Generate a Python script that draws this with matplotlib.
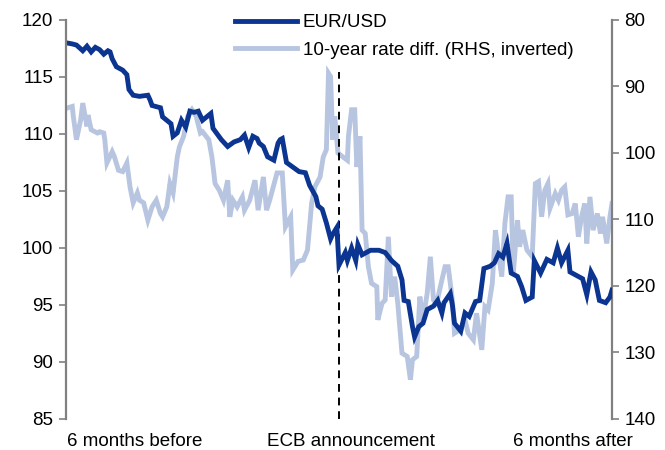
import matplotlib
matplotlib.use('Agg')
import matplotlib.pyplot as plt

plt.rcParams['font.family'] = ['Liberation Sans', 'DejaVu Sans']

# trading days relative to the ECB announcement (0)
days_fx = [-130, -127, -125, -122, -120, -118, -116, -114, -112, -110, -109, -108,
           -106, -103, -101, -100, -98, -95, -91, -90, -89, -87, -85, -84, -82, -80,
           -79, -77, -75, -73, -71, -69, -67, -65, -63, -61, -60, -58, -56, -53, -50,
           -47, -45, -43, -41, -39, -38, -36, -34, -31, -29, -28, -27, -25, -22, -19,
           -16, -14, -11, -10, -8, -6, -4, -3, -1, 0, 3, 4, 6, 8, 9, 11, 15, 19, 22,
           25, 28, 30, 31, 33, 35, 36, 38, 40, 42, 45, 47, 49, 50, 53, 54, 55, 58, 60,
           62, 65, 67, 69, 72, 74, 76, 78, 79, 80, 82, 85, 87, 89, 92, 93, 96, 99,
           102, 104, 106, 109, 110, 113, 116, 118, 120, 122, 124, 127, 129, 130]
eurusd = [118.0, 117.9, 117.8, 117.3, 117.7, 117.2, 117.6, 117.4, 117.0, 117.3, 117.2,
          116.6, 115.9, 115.6, 115.2, 113.9, 113.4, 113.3, 113.4, 113.0, 112.5, 112.4,
          112.3, 111.5, 111.2, 110.9, 109.8, 110.1, 111.2, 110.6, 112.0, 111.9, 112.0,
          111.2, 111.5, 111.8, 110.5, 110.0, 109.5, 108.9, 109.3, 109.5, 109.9, 108.8,
          109.8, 109.6, 109.2, 108.9, 108.0, 107.7, 109.2, 109.5, 109.6, 107.5, 107.1,
          106.7, 106.6, 105.5, 104.5, 103.7, 103.4, 102.2, 100.8, 101.2, 101.8, 98.5,
          99.6, 98.9, 100.0, 98.9, 100.3, 99.4, 99.8, 99.8, 99.6, 98.9, 98.4, 97.2,
          95.4, 95.3, 93.1, 92.2, 93.1, 93.4, 94.6, 94.9, 95.4, 94.3, 95.2, 96.0,
          95.0, 93.4, 92.7, 94.3, 94.0, 95.3, 95.4, 98.2, 98.4, 98.7, 99.5, 99.2,
          99.8, 100.4, 97.8, 97.5, 96.6, 95.4, 95.7, 98.9, 97.8, 99.0, 98.7, 100.0,
          98.7, 99.8, 97.9, 97.6, 97.3, 95.9, 97.9, 97.2, 95.4, 95.2, 95.7, 96.3]

days_rate = [-130, -127, -126.5, -125, -123, -122, -120, -119.5, -118, -115, -114, -112,
             -111.5, -110.5, -108, -107, -105, -103, -101, -99.5, -98, -96, -95, -93,
             -91, -89, -87, -85, -84, -82, -80.5, -79, -77, -76, -74, -72, -70, -68,
             -66, -65, -62, -60.5, -59, -57, -55, -53, -52, -50.5, -48.5, -46, -45,
             -42.5, -40, -38.5, -36, -34.5, -33, -29.5, -27, -25.5, -23, -22, -19.5,
             -17, -15, -13, -11.5, -9, -7.5, -6, -5, -4, -3, -2, -0.5, 1.5, 4, 4.5, 6,
             7.5, 8.5, 10, 11, 12.5, 14, 15.5, 18, 18.5, 20.5, 22, 23.5, 25, 26.5, 28,
             30, 32.5, 34, 35, 37, 38.5, 40, 42, 43.5, 45, 46.5, 49, 50.5, 52, 54, 55,
             57.5, 60, 61.5, 64, 65.5, 68, 69.5, 71, 73, 74.5, 75.5, 77.5, 79, 80.5,
             82, 83, 85, 86, 87.5, 89.5, 92, 93.5, 95, 96.5, 98, 99.5, 100.5, 103, 104.5,
             106, 107.5, 109, 111, 112.5, 114, 115.5, 117, 118, 119.5, 121, 123, 124.5,
             125.5, 127.5, 129, 130]
rate_diff = [93.3, 93.0, 94.5, 98.0, 95.0, 92.5, 96.0, 94.3, 96.5, 97.0, 96.8, 97.0,
             98.0, 101.5, 99.8, 100.5, 102.6, 102.8, 101.5, 105.1, 107.5, 106.0, 107.1,
             107.5, 110.1, 108.1, 107.1, 109.1, 109.6, 108.1, 104.6, 106.0, 100.6, 99.1,
             97.5, 94.5, 93.5, 94.5, 97.0, 96.8, 98.0, 100.6, 104.6, 105.6, 107.1, 104.1,
             109.6, 107.1, 108.1, 106.6, 108.6, 107.1, 104.1, 108.6, 103.6, 108.6, 107.1,
             103.0, 103.0, 111.1, 109.6, 117.6, 116.3, 116.1, 114.6, 107.5, 105.1, 103.6,
             100.6, 99.5, 88.0, 88.5, 98.0, 94.5, 100.0, 100.5, 101.1, 97.5, 93.5, 93.5,
             102.1, 97.5, 111.6, 112.1, 117.1, 119.6, 120.1, 125.1, 122.6, 122.1, 112.6,
             121.6, 118.6, 122.6, 130.1, 130.6, 134.1, 131.1, 130.6, 121.6, 125.1, 121.1,
             115.6, 122.1, 122.6, 119.1, 117.1, 117.1, 122.1, 127.1, 126.6, 125.1, 127.1,
             128.1, 124.1, 129.6, 123.1, 123.6, 119.6, 111.6, 114.1, 118.6, 110.6, 106.6,
             106.6, 118.1, 110.1, 114.1, 111.6, 114.6, 115.6, 104.6, 104.3, 109.6, 105.6,
             104.6, 108.3, 106.1, 107.1, 105.6, 105.1, 109.3, 109.1, 107.6, 112.6, 109.6,
             107.6, 113.6, 106.6, 111.6, 109.1, 112.1, 109.6, 113.6, 109.6, 107.6]

x_labels = ['6 months before', 'ECB announcement', '6 months after']
x_label_pos = [-97.5, 5.5, 111.5]

DARK = '#0b3590'
LIGHT = '#b7c5e1'
GREY = '#808080'

fig = plt.figure(figsize=(6.65, 4.5), dpi=100)
ax = fig.add_axes([0.0992, 0.0689, 0.8211, 0.8867])
ax2 = ax.twinx()

# EUR/USD drawn above the rate differential
ax.set_zorder(2)
ax.patch.set_visible(False)

l2, = ax2.plot(days_rate, rate_diff, color=LIGHT, lw=3.5, solid_joinstyle='miter')
l1, = ax.plot(days_fx, eurusd, color=DARK, lw=3.5, solid_joinstyle='miter')
ax.vlines(0, 85, 115.4, colors='black', linestyles=(0, (4, 3)), lw=1.4, zorder=1)

ax.set_xlim(-130, 130)
ax.set_ylim(85, 120)
ax.set_yticks(range(85, 121, 5))
ax2.set_ylim(140, 80)
ax2.set_yticks(range(80, 141, 10))

ax.set_xticks(x_label_pos)
ax.set_xticklabels(x_labels)
ax.tick_params(axis='x', length=0, pad=10, labelsize=13.5)
ax.tick_params(axis='y', length=5, width=1.2, color=GREY, labelsize=13.5, pad=4)
ax2.tick_params(axis='y', length=5, width=1.2, color=GREY, labelsize=13.5, pad=4)

for a in (ax, ax2):
    for s in ('top', 'bottom'):
        a.spines[s].set_visible(False)
ax.spines['right'].set_visible(False)
ax.spines['left'].set_color(GREY)
ax.spines['left'].set_linewidth(1.6)
ax2.spines['left'].set_visible(False)
ax2.spines['right'].set_color(GREY)
ax2.spines['right'].set_linewidth(1.6)

fig.legend([l1, l2], ['EUR/USD', '10-year rate diff. (RHS, inverted)'],
           loc='upper left', bbox_to_anchor=(0.3425, 0.985), frameon=False,
           fontsize=13.5, handlelength=3.3, handletextpad=0.3, labelspacing=0.55,
           borderaxespad=0)

fig.savefig('out.png', dpi=100, facecolor='white')
